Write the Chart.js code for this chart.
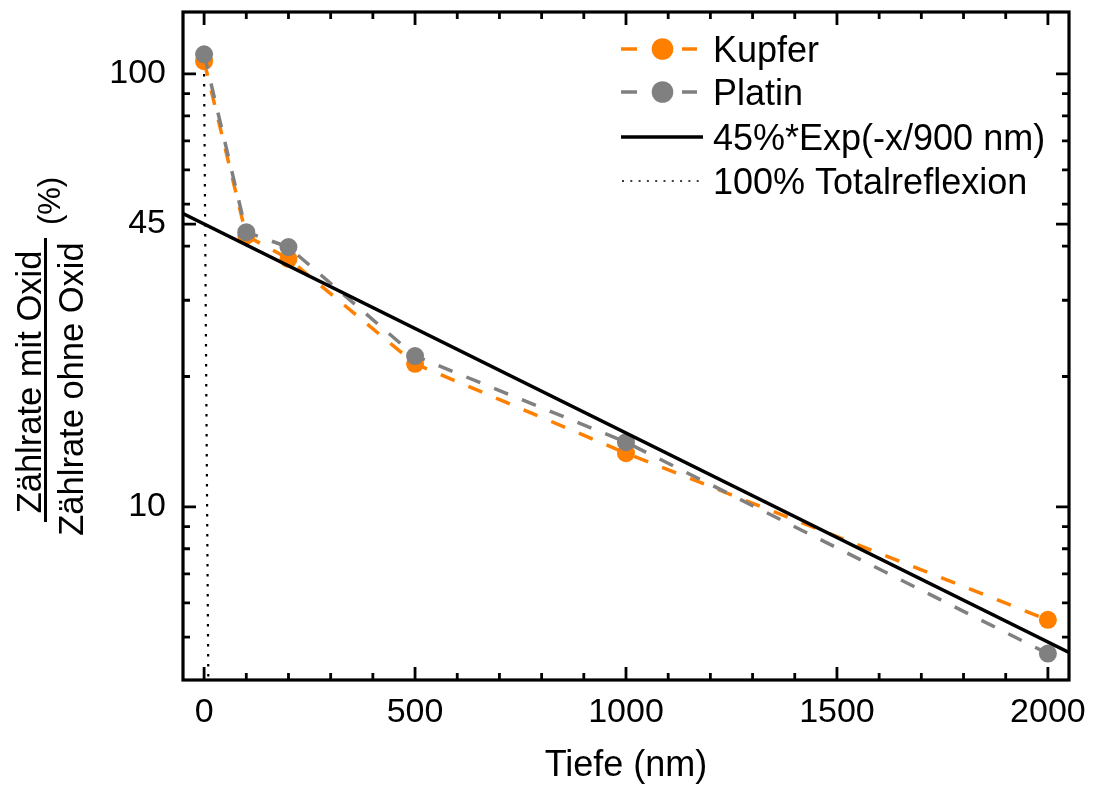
<!DOCTYPE html>
<html>
<head>
<meta charset="utf-8">
<script src="https://cdn.jsdelivr.net/npm/chart.js@4.4.1/dist/chart.umd.min.js"></script>
<style>
html, body { margin: 0; padding: 0; background: #fff; }
#wrap { width: 1094px; height: 789px; }
</style>
</head>
<body>
<div id="wrap"><canvas id="chart" width="1094" height="789"></canvas></div>
<script>
// data
var depth = [0, 100, 200, 500, 1000, 2000];
var kupfer = [107, 42.3, 37.4, 21.4, 13.3, 5.48];
var platin = [111, 43.1, 39.8, 22.3, 14.1, 4.58];
var fitDepth = [-50, 2050];
var fitRate = [47.6, 4.61];
var totalDepth = [0, 10];
var totalRate = [100, 3.98];

var xTicks = [0, 500, 1000, 1500, 2000];
var yTicks = [10, 45, 100];
var yMinor = [5, 6, 7, 8, 9, 20, 30, 40, 50, 60, 70, 80, 90];

var ORANGE = '#ff8000';
var GREY = '#808080';
var FONT = "'Liberation Sans', Arial, sans-serif";

function pts(xs, ys) {
    return xs.map(function (x, i) { return {x: x, y: ys[i]}; });
}

Chart.defaults.font.family = FONT;
Chart.defaults.font.size = 34;
Chart.defaults.color = '#000';

// box, inward ticks, y title, legend
var decor = {
    id: 'decor',
    afterDraw: function (chart) {
        var ctx = chart.ctx;
        var a = chart.chartArea;
        var xs = chart.scales.x, ys = chart.scales.y;
        ctx.save();
        ctx.strokeStyle = '#000';
        ctx.lineWidth = 2.8;
        ctx.lineCap = 'butt';
        ctx.beginPath();
        // x ticks (major + minor every 100)
        for (var v = 0; v <= 2000; v += 100) {
            var px = xs.getPixelForValue(v);
            var len = (v % 500 === 0) ? 13 : 7;
            ctx.moveTo(px, a.bottom); ctx.lineTo(px, a.bottom - len);
            ctx.moveTo(px, a.top); ctx.lineTo(px, a.top + len);
        }
        yTicks.forEach(function (t) {
            var py = ys.getPixelForValue(t);
            ctx.moveTo(a.left, py); ctx.lineTo(a.left + 13, py);
            ctx.moveTo(a.right, py); ctx.lineTo(a.right - 13, py);
        });
        yMinor.forEach(function (t) {
            var py = ys.getPixelForValue(t);
            ctx.moveTo(a.left, py); ctx.lineTo(a.left + 7, py);
            ctx.moveTo(a.right, py); ctx.lineTo(a.right - 7, py);
        });
        ctx.stroke();
        ctx.lineWidth = 3.2;
        ctx.strokeRect(a.left, a.top, a.right - a.left, a.bottom - a.top);

        // y axis title as a fraction
        ctx.fillStyle = '#000';
        ctx.textAlign = 'center';
        ctx.textBaseline = 'alphabetic';
        ctx.font = '34.5px ' + FONT;
        ctx.save();
        ctx.translate(41, 382);
        ctx.rotate(-Math.PI / 2);
        ctx.fillText('Zählrate mit Oxid', 0, 0);
        ctx.restore();
        ctx.save();
        ctx.translate(83, 389);
        ctx.rotate(-Math.PI / 2);
        ctx.fillText('Zählrate ohne Oxid', 0, 0);
        ctx.restore();
        ctx.fillRect(44, 238, 3, 284);
        ctx.font = '31px ' + FONT;
        ctx.save();
        ctx.translate(60, 201);
        ctx.rotate(-Math.PI / 2);
        ctx.fillText('(%)', 0, 0);
        ctx.restore();

        // legend
        var rows = [
            {label: 'Kupfer', ds: chart.data.datasets[0], y: 49},
            {label: 'Platin', ds: chart.data.datasets[1], y: 92},
            {label: '45%*Exp(-x/900 nm)', ds: chart.data.datasets[2], y: 137},
            {label: '100% Totalreflexion', ds: chart.data.datasets[3], y: 181}
        ];
        ctx.font = '36px ' + FONT;
        ctx.textAlign = 'left';
        rows.forEach(function (r, i) {
            ctx.strokeStyle = r.ds.borderColor;
            ctx.lineWidth = r.ds.borderWidth;
            ctx.beginPath();
            if (i < 2) {
                ctx.moveTo(621, r.y); ctx.lineTo(637, r.y);
                ctx.moveTo(682, r.y); ctx.lineTo(697, r.y);
                ctx.stroke();
                ctx.fillStyle = r.ds.pointBackgroundColor;
                ctx.beginPath();
                ctx.arc(662.5, r.y, 10.8, 0, Math.PI * 2);
                ctx.fill();
            } else if (i === 2) {
                ctx.moveTo(621, r.y); ctx.lineTo(703, r.y);
                ctx.stroke();
            } else {
                ctx.lineWidth = 1.6;
                ctx.setLineDash([2, 6.3]);
                ctx.moveTo(622, r.y); ctx.lineTo(703, r.y);
                ctx.stroke();
                ctx.setLineDash([]);
            }
            ctx.fillStyle = '#000';
            ctx.fillText(r.label, 713, r.y + 13);
        });
        ctx.restore();
    }
};

new Chart(document.getElementById('chart'), {
    type: 'line',
    data: {
        datasets: [{
            label: 'Kupfer',
            data: pts(depth, kupfer),
            borderColor: ORANGE,
            backgroundColor: ORANGE,
            pointBackgroundColor: ORANGE,
            pointBorderWidth: 0,
            pointRadius: 9,
            borderWidth: 3.5,
            borderDash: [15, 15],
            order: 4
        }, {
            label: 'Platin',
            data: pts(depth, platin),
            borderColor: GREY,
            backgroundColor: GREY,
            pointBackgroundColor: GREY,
            pointBorderWidth: 0,
            pointRadius: 9,
            borderWidth: 3.5,
            borderDash: [15, 15],
            order: 3
        }, {
            label: '45%*Exp(-x/900 nm)',
            data: pts(fitDepth, fitRate),
            borderColor: '#000',
            borderWidth: 3.5,
            pointRadius: 0,
            order: 2
        }, {
            label: '100% Totalreflexion',
            data: pts(totalDepth, totalRate),
            borderColor: '#000',
            borderWidth: 2.2,
            borderDash: [2.5, 7.5],
            pointRadius: 0,
            order: 1
        }]
    },
    options: {
        responsive: false,
        animation: false,
        devicePixelRatio: 1,
        layout: {padding: {top: 12, right: 25, left: 0, bottom: 0}},
        plugins: {legend: {display: false}, tooltip: {enabled: false}},
        scales: {
            x: {
                type: 'linear',
                min: -50,
                max: 2050,
                grid: {display: false, drawTicks: false},
                border: {display: false},
                ticks: {
                    padding: 12,
                    maxRotation: 0,
                    autoSkip: false,
                    callback: function (v) { return String(v); }
                },
                afterBuildTicks: function (s) {
                    s.ticks = xTicks.map(function (v) { return {value: v}; });
                },
                afterFit: function (s) {
                    s.height = 109;
                    s.paddingLeft = 0;
                    s.paddingRight = 0;
                },
                title: {display: true, text: 'Tiefe (nm)', font: {size: 36}, padding: {top: 0, bottom: 1}}
            },
            y: {
                type: 'logarithmic',
                min: 3.98,
                max: 139,
                grid: {display: false, drawTicks: false},
                border: {display: false},
                ticks: {
                    padding: 17,
                    autoSkip: false,
                    callback: function (v) { return String(v); }
                },
                afterBuildTicks: function (s) {
                    s.ticks = yTicks.map(function (v) { return {value: v}; });
                },
                afterFit: function (s) {
                    s.width = 183;
                    s.paddingTop = 0;
                    s.paddingBottom = 0;
                }
            }
        }
    },
    plugins: [decor]
});
</script>
</body>
</html>
